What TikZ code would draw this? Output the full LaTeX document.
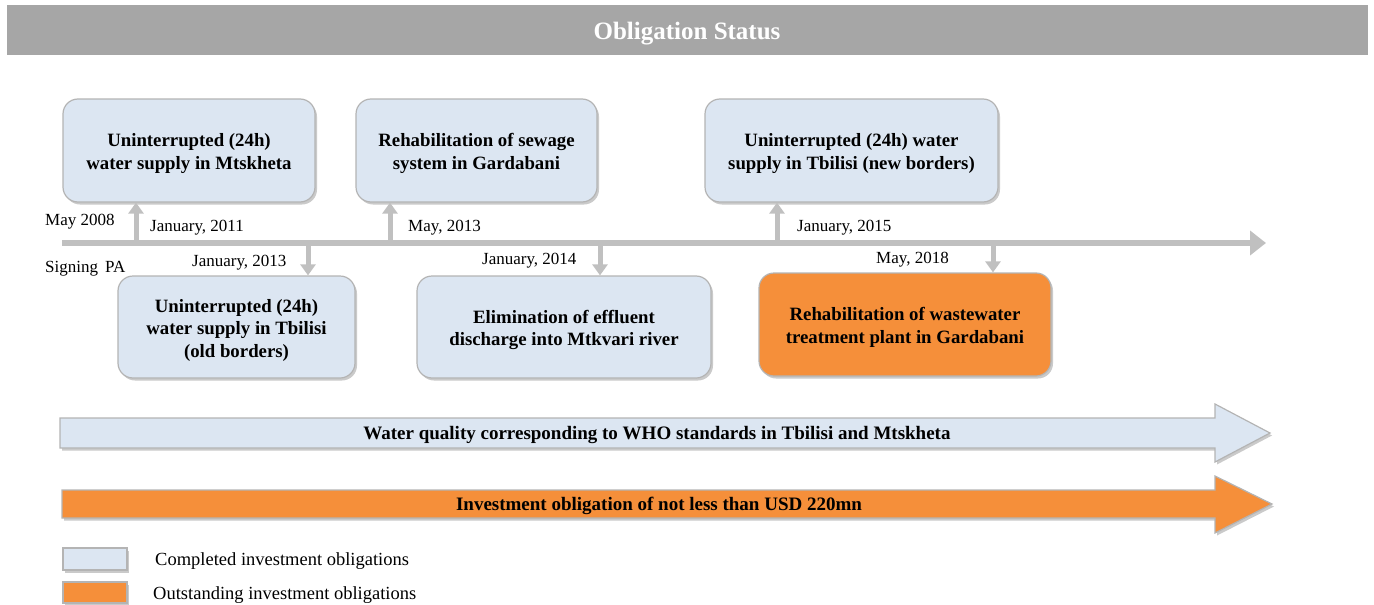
\documentclass[tikz,border=0pt]{standalone}
\usepackage{fontspec}
\setmainfont{Liberation Serif}
\usetikzlibrary{shadows,arrows.meta}
\definecolor{hdr}{HTML}{A6A6A6}
\definecolor{lblue}{HTML}{DCE6F2}
\definecolor{orng}{HTML}{F58F3A}
\definecolor{tl}{HTML}{C0C0C0}
\definecolor{bdr}{HTML}{B4B4B4}
\tikzset{
  ob/.style={draw=bdr, line width=1.2pt, rounded corners=15pt, fill=lblue, inner sep=0pt,
    drop shadow={shadow xshift=2pt, shadow yshift=-2.5pt, opacity=0.35, fill=black!60}},
  obo/.style={ob, fill=orng},
  obt/.style={align=center, font=\fontsize{18.8}{22.5}\selectfont\bfseries, inner sep=0pt},
  date/.style={font=\fontsize{17}{20}\selectfont, inner sep=0pt, anchor=west},
  tick/.style={draw=tl, line width=5pt, -{Triangle[length=11pt,width=15pt]}},
  bigarrow/.style={draw=bdr, line width=1.2pt,
    drop shadow={shadow xshift=2pt, shadow yshift=-2.5pt, opacity=0.35, fill=black!60}},
  lbl/.style={font=\fontsize{19}{22}\selectfont\bfseries, inner sep=0pt},
  leg/.style={font=\fontsize{18.5}{21}\selectfont, inner sep=0pt, anchor=west}
}
\begin{document}
\begin{tikzpicture}[x=1pt,y=-1pt]
\useasboundingbox (0,0) rectangle (1374,605);
% header
\fill[hdr] (7,5) rectangle (1368,55);
\node[text=white, font=\fontsize{25}{28}\selectfont\bfseries, inner sep=0pt] (title) at (687,34) {Obligation Status};
% timeline
\coordinate (ts) at (62,243);
\coordinate (te) at (1266,243);
\draw[draw=tl, line width=6pt, -{Triangle[length=16pt,width=24pt]}] (ts) -- (te);
% boxes
\node[ob, minimum width=252pt, minimum height=103pt] (b1) at (189,150.5) {};
\node[ob, minimum width=241pt, minimum height=103pt] (b2) at (476.5,150.5) {};
\node[ob, minimum width=293pt, minimum height=103pt] (b3) at (851.5,150.5) {};
\node[ob, minimum width=237pt, minimum height=102pt] (b4) at (236.5,327) {};
\node[ob, minimum width=294pt, minimum height=102pt] (b5) at (564,327) {};
\node[obo, minimum width=292pt, minimum height=103pt] (b6) at (905,324.5) {};
\node[obt] (b1t) at ([yshift=-3pt]b1.center) {Uninterrupted (24h)\\water supply in Mtskheta};
\node[obt] (b2t) at ([yshift=-3pt]b2.center) {Rehabilitation of sewage\\system in Gardabani};
\node[obt] (b3t) at ([yshift=-3pt]b3.center) {Uninterrupted (24h) water\\supply in Tbilisi (new borders)};
\node[obt] (b4t) at ([yshift=-3pt]b4.center) {Uninterrupted (24h)\\water supply in Tbilisi\\(old borders)};
\node[obt] (b5t) at ([yshift=-3pt]b5.center) {Elimination of effluent\\discharge into Mtkvari river};
\node[obt] (b6t) at ([yshift=-3pt]b6.center) {Rehabilitation of wastewater\\treatment plant in Gardabani};
% tick arrows
\coordinate (t1) at (136,244);
\coordinate (t2) at (308,242);
\coordinate (t3) at (390,244);
\coordinate (t4) at (600,242);
\coordinate (t5) at (777,244);
\coordinate (t6) at (993,242);
\draw[tick] (t1) -- (t1 |- b1.south);
\draw[tick] (t2) -- (t2 |- b4.north);
\draw[tick] (t3) -- (t3 |- b2.south);
\draw[tick] (t4) -- (t4 |- b5.north);
\draw[tick] (t5) -- (t5 |- b3.south);
\draw[tick] (t6) -- (t6 |- b6.north);
% dates
\node[date] (d0) at (45,222) {May 2008};
\node[date] (d0b) at (45,269) {Signing\, PA};
\node[date] (d1) at (150,228) {January, 2011};
\node[date] (d2) at (192,263) {January, 2013};
\node[date] (d3) at (408,228) {May, 2013};
\node[date] (d4) at (482,261) {January, 2014};
\node[date] (d5) at (797,228) {January, 2015};
\node[date] (d6) at (876,260) {May, 2018};
% big arrows
\path[bigarrow, fill=lblue] (60,418) -- (1215,418) -- (1215,404) -- (1270,433) -- (1215,462) -- (1215,448) -- (60,448) -- cycle;
\node[lbl] (a1) at (657,435) {Water quality corresponding to WHO standards in Tbilisi and Mtskheta};
\path[bigarrow, fill=orng] (62,490) -- (1215,490) -- (1215,476) -- (1272,504) -- (1215,533) -- (1215,518) -- (62,518) -- cycle;
\node[lbl] (a2) at (659,506) {Investment obligation of not less than USD 220mn};
% legend
\path[bigarrow, fill=lblue] (63,548) rectangle (127,570);
\node[leg] (l1) at (155,561) {Completed investment obligations};
\path[bigarrow, fill=orng] (63,582) rectangle (127,603);
\node[leg] (l2) at (153,595) {Outstanding investment obligations};
\end{tikzpicture}
\end{document}
